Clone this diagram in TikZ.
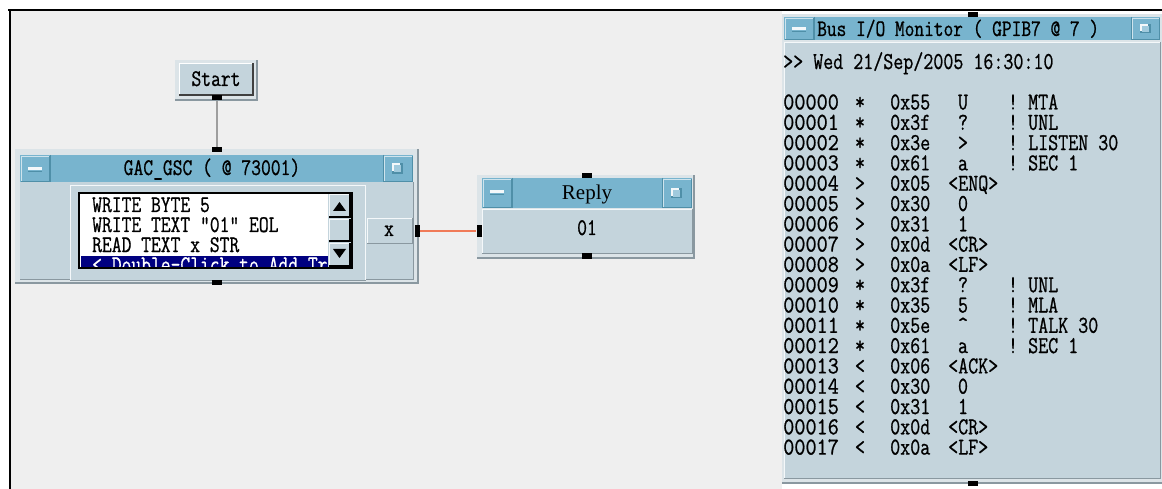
\documentclass[tikz,border=0pt]{standalone}
\usepackage{fontspec}
\newfontfamily\vmono[FakeStretch=0.8,FakeBold=0.8]{Latin Modern Mono}
\newfontfamily\vmonow[FakeStretch=0.89,FakeBold=0.8]{Latin Modern Mono}
\newfontfamily\vserif{Liberation Serif}
\definecolor{canvas}{HTML}{EFEFEF}
\definecolor{titlebar}{HTML}{78B4CE}
\definecolor{tbdark}{HTML}{4F8FA8}
\definecolor{bodyc}{HTML}{C4D4DC}
\definecolor{frameedge}{HTML}{DCE4E8}
\definecolor{shadow}{HTML}{8A98A0}
\definecolor{hilite}{HTML}{F4F8FA}
\definecolor{wire}{HTML}{F07A58}
\definecolor{navy}{HTML}{000080}
\newcommand\vbevel[5]{%
  \fill[#5] (#1,#2) rectangle (#3,#4);
  \draw[hilite] (#1,#4) -- (#1,#2) -- (#3,#2);
  \draw[shadow] (#1,#4) -- (#3,#4) -- (#3,#2);}
\newcommand\vminus[4]{% minus button
  \fill[titlebar] (#1,#2) rectangle (#3,#4);
  \draw[hilite!70!titlebar] (#1,#4) -- (#1,#2) -- (#3,#2);
  \draw[tbdark] (#1,#4) -- (#3,#4) -- (#3,#2);}
\tikzset{
  mono/.style={font=\vmono\fontsize{23.8}{24}\selectfont, inner sep=0},
  monm/.style={font=\vmono\fontsize{24.3}{25}\selectfont, inner sep=0},
  montl/.style={font=\vmono\fontsize{23.6}{24}\selectfont, inner sep=0},
  monaddr/.style={font=\vmonow\fontsize{24.3}{25}\selectfont, inner sep=0},
  serif/.style={font=\vserif\fontsize{21}{22}\selectfont, inner sep=0},
  pinbox/.style={fill=black, inner sep=0, minimum width=10, minimum height=5},
  sidepin/.style={fill=black, inner sep=0, minimum width=5, minimum height=12},
  chw/.style={anchor=base west},
  chc/.style={anchor=base, xshift=15},
}
\begin{document}
\begin{tikzpicture}[x=1pt,y=-1pt]
\useasboundingbox (0,0) rectangle (1162,489);
\fill[white] (0,0) rectangle (1162,489);
\fill[canvas] (10,11) rectangle (782,489);
\draw[line width=2] (8,10) -- (1162,10);
\draw[line width=2] (10,10) -- (10,489);

% ---------- Start button
\fill[frameedge] (175,60) rectangle (257,100);
\draw[shadow, line width=1.5] (175,100) -- (257,100) -- (257,60);
\fill[bodyc] (179,63) rectangle (253,95);
\draw[white] (179,95) -- (179,63) -- (253,63);
\draw[black!75, line width=1.5] (179,95) -- (253,95) -- (253,63);
\node[mono, anchor=base] (start) at (216,86) {Start};
\node[pinbox] (startout) at (217,98) {};

% ---------- GAC_GSC window
\fill[frameedge] (15,149) rectangle (418,283);
\draw[shadow, line width=2] (15,283) -- (418,283) -- (418,149);
\fill[titlebar] (20,155) rectangle (413,182);
\draw[tbdark] (50,155) -- (50,182);
\draw[tbdark] (383,155) -- (383,182);
\vminus{21}{156}{49}{181}
\fill[hilite] (28,167) rectangle (42,170);
\draw[tbdark] (28,171) -- (42,171);
\vminus{384}{156}{412}{181}
\fill[tbdark] (392,163) rectangle (403,174);
\fill[hilite] (392,163) rectangle (400,171);
\fill[titlebar!70!white] (394,165) rectangle (401,172);
\node[mono, anchor=base] (gactitle) at (212,175) {GAC\symbol{95}GSC ( @ 73001)};
\fill[bodyc] (20,182) rectangle (413,279);
\draw[shadow] (20,279) -- (413,279) -- (413,182);
\vbevel{70}{185}{365}{280}{bodyc}
\draw[hilite] (365,185) -- (365,280);
% listbox
\fill[white] (79,193) rectangle (352,268);
\begin{scope}
  \clip (81,256) rectangle (328,267);
  \fill[navy] (81,256) rectangle (328,267);
  \node[mono, anchor=base west, white] (addrow) at (92,272) {< Double-Click to Add Transaction >};
\end{scope}
\draw[black, line width=2] (79,193) rectangle (352,268);
\node[mono, anchor=base west] (l1) at (92,212) {WRITE BYTE 5};
\node[mono, anchor=base west] (l2) at (92,232) {WRITE TEXT ”01” EOL};
\node[mono, anchor=base west] (l3) at (92,252) {READ TEXT x STR};
% scrollbar
\fill[bodyc] (328,194) rectangle (351,267);
\vbevel{329}{194}{350}{217}{bodyc}
\draw[black, line width=1.2] (329,217) -- (350,217) -- (350,194);
\vbevel{329}{219}{350}{241}{bodyc}
\draw[black, line width=1.2] (329,241) -- (350,241) -- (350,219);
\vbevel{329}{243}{350}{266}{bodyc}
\draw[black, line width=1.2] (329,266) -- (350,266) -- (350,243);
\fill[black] (333,211) -- (346,211) -- (339.5,202) -- cycle;
\fill[black] (333,249) -- (346,249) -- (339.5,258) -- cycle;
% x terminal
\vbevel{367}{218}{412}{243}{bodyc}
\node[mono, anchor=base] (xterm) at (389,236) {x};
\node[pinbox] (gacin) at (217,150) {};
\node[pinbox] (gacseq) at (217,282) {};
\node[sidepin] (gacout) at (417,231) {};

% ---------- Reply window
\fill[frameedge] (477,175) rectangle (694,258);
\draw[shadow, line width=2] (477,258) -- (694,258) -- (694,175);
\fill[titlebar] (482,178) rectangle (692,208);
\draw[tbdark] (512,178) -- (512,208);
\draw[tbdark] (662,178) -- (662,208);
\vminus{483}{179}{511}{207}
\fill[hilite] (490,190) rectangle (504,193);
\draw[tbdark] (490,194) -- (504,194);
\vminus{663}{179}{691}{207}
\fill[tbdark] (671,188) rectangle (682,198);
\fill[hilite] (671,188) rectangle (679,196);
\fill[titlebar!70!white] (673,190) rectangle (680,197);
\node[serif, anchor=base] (replytitle) at (587,200) {Reply};
\vbevel{482}{209}{692}{253}{bodyc}
\node[mono, anchor=base] (replyval) at (587,235) {01};
\node[pinbox] (replytop) at (587,176) {};
\node[pinbox] (replybot) at (587,256) {};
\node[sidepin] (replyin) at (479,231) {};

% ---------- Bus I/O Monitor
\fill[frameedge] (782,14) rectangle (1162,484);
\draw[shadow, line width=2] (782,483) -- (1162,483);
\fill[titlebar] (784,17) rectangle (1160,40);
\draw[tbdark] (814,17) -- (814,40);
\draw[tbdark] (1131,17) -- (1131,40);
\vminus{785}{18}{813}{39}
\fill[hilite] (792,27) rectangle (806,30);
\draw[tbdark] (792,31) -- (806,31);
\vminus{1132}{18}{1159}{39}
\fill[tbdark] (1140,24) rectangle (1151,33);
\fill[hilite] (1140,24) rectangle (1148,31);
\fill[titlebar!70!white] (1142,26) rectangle (1149,32);
\node[montl, anchor=base west] (montitle) at (817,36) {Bus I/O Monitor ( GPIB7 @ 7 )};
\vbevel{784}{42}{1160}{478}{bodyc}
\node[monm, anchor=base west] (mondate) at (783,69) {>> Wed 21/Sep/2005 16:30:10};
\foreach \a/\s/\h/\c/\p/\k/\d [count=\n from 0] in {
  00000/*/0x55/U/chc/!/MTA,
  00001/*/0x3f/?/chc/!/UNL,
  00002/*/0x3e/>/chc/!/LISTEN 30,
  00003/*/0x61/a/chc/!/SEC 1,
  00004/>/0x05/<ENQ>/chw/{}/{},
  00005/>/0x30/0/chc/{}/{},
  00006/>/0x31/1/chc/{}/{},
  00007/>/0x0d/<CR>/chw/{}/{},
  00008/>/0x0a/<LF>/chw/{}/{},
  00009/*/0x3f/?/chc/!/UNL,
  00010/*/0x35/5/chc/!/MLA,
  00011/*/0x5e/\textasciicircum/chc/!/TALK 30,
  00012/*/0x61/a/chc/!/SEC 1,
  00013/</0x06/<ACK>/chw/{}/{},
  00014/</0x30/0/chc/{}/{},
  00015/</0x31/1/chc/{}/{},
  00016/</0x0d/<CR>/chw/{}/{},
  00017/</0x0a/<LF>/chw/{}/{}}
{
  \pgfmathsetmacro\yb{102+\n*20.3+7.5}
  \node[monaddr, anchor=base west] (ra\n) at (783,\yb) {\a};
  \node[monm, anchor=base] (rs\n) at (860,\yb) {\s};
  \node[monm, anchor=base west] (rh\n) at (890,\yb) {\h};
  \node[monm, \p] (rc\n) at (948,\yb) {\c};
  \node[monm, anchor=base] (rk\n) at (1013,\yb) {\k};
  \node[monm, anchor=base west] (rd\n) at (1028,\yb) {\d};
}
\node[pinbox] (montop) at (973,15) {};
\node[pinbox] (monbot) at (973,483) {};

% ---------- connectors
\draw[black!38, line width=1.5] (startout) -- (gacin);
\draw[wire, line width=1.3] (gacout) -- (replyin);
\end{tikzpicture}
\end{document}
